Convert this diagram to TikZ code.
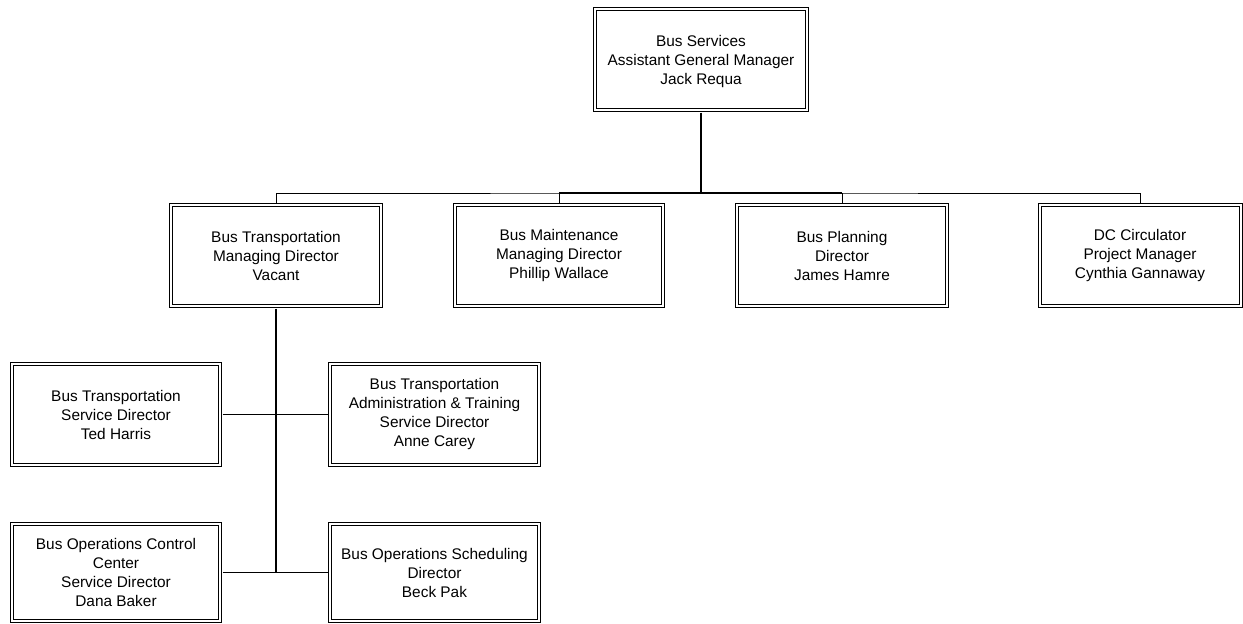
\documentclass[tikz,border=0pt]{standalone}
\usepackage{fontspec}
\setmainfont{Liberation Sans}
\usepackage{tikz}

\begin{document}
\begin{tikzpicture}[x=1pt,y=-1pt,
    post/.style={draw, line width=1pt, double, double distance=2pt,
        align=center, inner sep=0pt,
        font=\fontsize{15.4}{19}\selectfont},
    thinline/.style={line width=1pt},
    thickline/.style={line width=1.8pt}]
\useasboundingbox (0,0) rectangle (1243,624);

% top
\node[post, minimum width=212, minimum height=101] (gm) at (701,59.5)
    {\\[-4pt]Bus Services\\Assistant General Manager\\Jack Requa};

% second row
\node[post, minimum width=210, minimum height=101] (transp) at (276,255.5)
    {Bus Transportation\\Managing Director\\Vacant};
\node[post, minimum width=208, minimum height=101] (maint) at (559,255.5)
    {Bus Maintenance\\Managing Director\\Phillip Wallace};
\node[post, minimum width=210, minimum height=101] (plan) at (842,255.5)
    {Bus Planning\\Director\\James Hamre};
\node[post, minimum width=201, minimum height=101] (dc) at (1140,255.5)
    {DC Circulator\\Project Manager\\Cynthia Gannaway};

% under bus transportation
\node[post, minimum width=208, minimum height=101] (ted) at (116,414.5)
    {Bus Transportation\\Service Director\\Ted Harris};
\node[post, minimum width=209, minimum height=101] (anne) at (434.5,414.5)
    {Bus Transportation\\Administration \& Training\\Service Director\\Anne Carey};
\node[post, minimum width=208, minimum height=97] (dana) at (116,572.5)
    {Bus Operations Control\\Center\\Service Director\\Dana Baker};
\node[post, minimum width=209, minimum height=97] (beck) at (434.5,572.5)
    {Bus Operations Scheduling\\Director\\Beck Pak};

\coordinate (bar) at (700,193);

\draw[thickline, shorten <=2pt] (gm.south) -- (gm.south |- bar);
\draw[thinline, shorten <=2pt, shorten >=2pt] (transp.north) |- (bar) -| (dc.north);
\draw[thickline] (maint.north |- bar) -- (plan.north |- bar);
\draw[thinline, shorten <=2pt] (maint.north) -- (maint.north |- bar);
\draw[thinline, shorten <=2pt] (plan.north) -- (plan.north |- bar);

\draw[thickline, shorten <=2pt] (transp.south) -- (transp.south |- dana.east);
\draw[thinline, shorten <=2pt, shorten >=2pt] (ted.east) -- (anne.west);
\draw[thinline, shorten <=2pt, shorten >=2pt] (dana.east) -- (beck.west);
\end{tikzpicture}
\end{document}
